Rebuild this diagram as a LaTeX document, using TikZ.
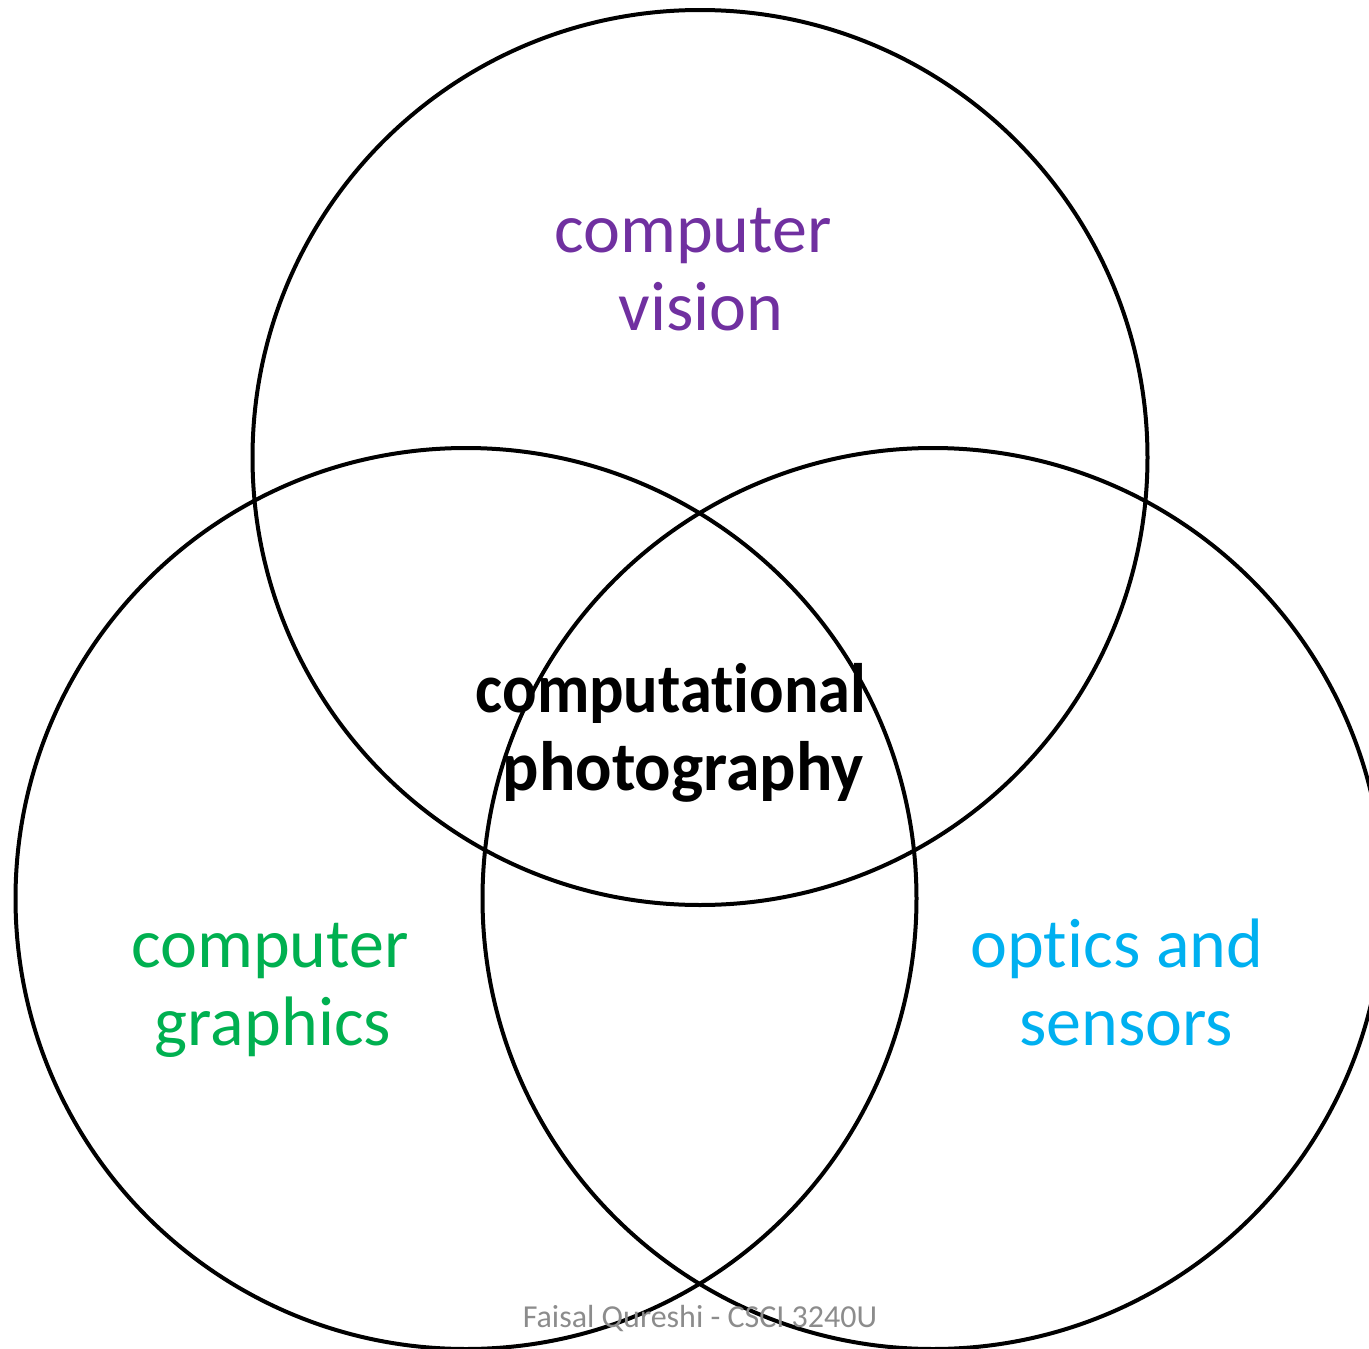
\documentclass[tikz,border=0pt]{standalone}
\usepackage{fontspec}
\setmainfont[Ligatures={NoCommon,NoRare}]{Carlito}
\definecolor{cvpurple}{HTML}{7030A0}
\definecolor{cggreen}{HTML}{00B050}
\definecolor{oscyan}{HTML}{00B0F0}
\definecolor{footgray}{HTML}{8C8C8C}
\begin{document}
\begin{tikzpicture}[x=1pt,y=-1pt,
  ring/.style={draw=black,line width=4pt},
  lbl/.style={inner sep=0pt,anchor=base,font=\fontsize{70}{78}\selectfont},
  clbl/.style={inner sep=0pt,anchor=base,font=\fontsize{70}{78}\selectfont\bfseries}]
\useasboundingbox (0,0) rectangle (1369,1349);
\path[clip] (0,0) rectangle (1369,1349);
\draw[ring] (700,457.5) circle (447.5);
\draw[ring] (466,898.5) circle (450.5);
\draw[ring] (933,898.5) circle (450.5);
\node[lbl,text=cvpurple] (cv1) at (693,252) {computer};
\node[lbl,text=cvpurple] (cv2) at (701,330) {vision};
\node[lbl,text=cggreen] (cg1) at (270,967) {computer};
\node[lbl,text=cggreen] (cg2) at (273,1045) {graphics};
\node[lbl,text=oscyan] (os1) at (1117,967) {opt\kern0pt ics and};
\node[lbl,text=oscyan] (os2) at (1126,1045) {sensors};
\node[clbl] (cp1) at (671,712) {\scalebox{0.92}[1]{computat\kern0pt ional}};
\node[clbl] (cp2) at (683,790) {\scalebox{0.97}[1]{photography}};
\node[inner sep=0pt,anchor=base,text=footgray,font=\fontsize{32}{36}\selectfont] (ft) at (700,1327) {Faisal Qureshi - CSCI 3240U};
\end{tikzpicture}
\end{document}
